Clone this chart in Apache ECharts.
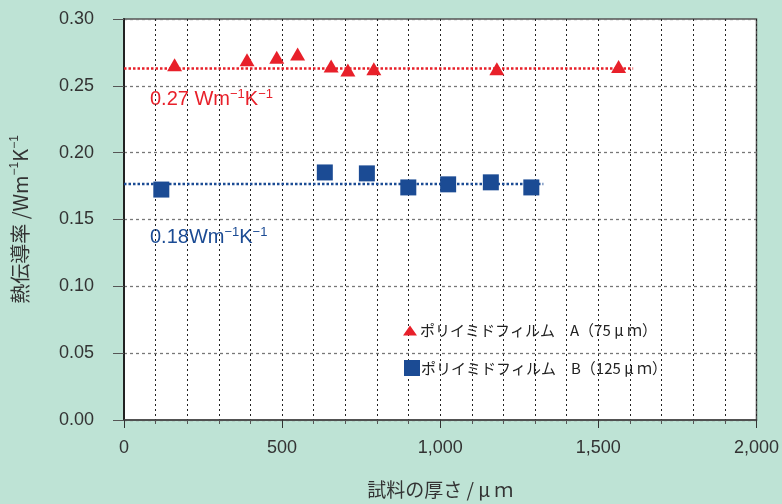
<!DOCTYPE html>
<html><head><meta charset="utf-8">
<script src="https://cdn.jsdelivr.net/npm/echarts@6/dist/echarts.min.js"></script>
<style>html,body{margin:0;padding:0;background:#BEE3D5;}#c{width:782px;height:504px;}</style>
</head><body><div id="c"></div>
<script>
const nameA = 'ポリイミドフィルム　A（75 μ ｍ）';
const nameB = 'ポリイミドフィルム　B（125 μ ｍ）';
const thickA = [160, 389, 483, 549, 655, 708, 790, 1179, 1564];
const condA  = [0.2657, 0.2696, 0.2714, 0.2739, 0.2649, 0.2619, 0.2627, 0.2627, 0.2644];
const thickB = [118, 635, 768, 899, 1025, 1160, 1288];
const condB  = [0.1724, 0.1852, 0.1845, 0.1740, 0.1763, 0.1778, 0.1740];
const fitA = {x: [0, 1610], y: 0.263};
const fitB = {x: [0, 1326], y: 0.1765};
const xTicks = [0, 500, 1000, 1500, 2000];

const RED = '#E8202A', BLUE = '#1B4B94';
const FF = "'Liberation Sans', 'Noto Sans CJK JP', sans-serif";
const FJ = "'Noto Sans CJK JP', sans-serif";
const chart = echarts.init(document.getElementById('c'));
const pairs = (xs, ys) => xs.map((x, i) => [x, ys[i]]);
chart.setOption({
  backgroundColor: '#BEE3D5',
  animation: false,
  textStyle: {fontFamily: FF},
  grid: {left: 124, top: 19, right: 20, bottom: 82, show: true, backgroundColor: '#fff', borderColor: '#555', borderWidth: 1.5},
  xAxis: {
    type: 'value', min: 0, max: 2000, interval: 500,
    name: '試料の厚さ / μ ｍ', nameLocation: 'middle', nameGap: 60,
    nameTextStyle: {fontSize: 19, color: '#333', fontFamily: FJ},
    axisLine: {lineStyle: {color: '#444', width: 1.5}},
    axisTick: {show: true, length: 8, lineStyle: {color: '#333'}},
    minorTick: {show: true, splitNumber: 5, length: 4, lineStyle: {color: '#555'}},
    axisLabel: {fontSize: 18, color: '#333', margin: 19, fontFamily: FF,
      formatter: v => xTicks.includes(v) ? v.toLocaleString('en-US') : ''},
    splitLine: {show: true, lineStyle: {color: '#222', type: [2, 3], width: 1}},
    minorSplitLine: {show: true, lineStyle: {color: '#222', type: [2, 3], width: 1}}
  },
  yAxis: {
    type: 'value', min: 0, max: 0.3, interval: 0.05,
    name: '{a|熱伝導率 /Wm}{s|−1}{a|K}{s|−1}', nameLocation: 'middle', nameGap: 92,
    nameTextStyle: {color: '#333', rich: {a: {fontSize: 20, lineHeight: 23, color: '#333', fontFamily: FJ}, s: {fontSize: 12, verticalAlign: 'top', lineHeight: 23, color: '#333', fontFamily: FF}}},
    axisLine: {show: true, lineStyle: {color: '#222', width: 2}},
    axisTick: {show: true, length: 11, lineStyle: {color: '#555'}},
    axisLabel: {fontSize: 18, color: '#333', margin: 30, fontFamily: FF, formatter: v => v.toFixed(2)},
    splitLine: {show: true, lineStyle: {color: '#777', type: [3, 3], width: 1.3}}
  },
  legend: [
    {data: [{name: nameA, icon: 'triangle'}], orient: 'vertical', left: 398, top: 318, itemWidth: 14, itemHeight: 10, itemGap: 4,
      textStyle: {fontSize: 15, color: '#222', fontFamily: FJ, padding: [0, 0, 0, -2]}},
    {data: [{name: nameB, icon: 'rect'}], orient: 'vertical', left: 399, top: 355, itemWidth: 16, itemHeight: 16, itemGap: 4,
      textStyle: {fontSize: 15, color: '#222', fontFamily: FJ, padding: [0, 0, 0, -4]}}
  ],
  graphic: [
    {type: 'text', left: 150, top: 88, style: {text: '{n|0.27 Wm}{s|−1}{n|K}{s|−1}', rich: {n: {fontSize: 20, lineHeight: 23, fill: RED, fontFamily: FF}, s: {fontSize: 13, verticalAlign: 'top', lineHeight: 23, fill: RED, fontFamily: FF}}}},
    {type: 'text', left: 150, top: 226, style: {text: '{n|0.18Wm}{s|−1}{n|K}{s|−1}', rich: {n: {fontSize: 20, lineHeight: 23, fill: BLUE, fontFamily: FF}, s: {fontSize: 13, verticalAlign: 'top', lineHeight: 23, fill: BLUE, fontFamily: FF}}}}
  ],
  series: [
    {type: 'line', data: fitA.x.map(x => [x, fitA.y]), symbol: 'none', silent: true, lineStyle: {color: RED, width: 2.5, type: [2.5, 2]}, z: 2},
    {type: 'line', data: fitB.x.map(x => [x, fitB.y]), symbol: 'none', silent: true, lineStyle: {color: BLUE, width: 2.5, type: [2.5, 2]}, z: 2},
    {name: nameA, type: 'scatter', data: pairs(thickA, condA), symbol: 'triangle', symbolSize: [15, 13], itemStyle: {color: RED, opacity: 1}, z: 3},
    {name: nameB, type: 'scatter', data: pairs(thickB, condB), symbol: 'rect', symbolSize: 16, itemStyle: {color: BLUE, opacity: 1}, z: 3}
  ]
});
</script></body></html>
